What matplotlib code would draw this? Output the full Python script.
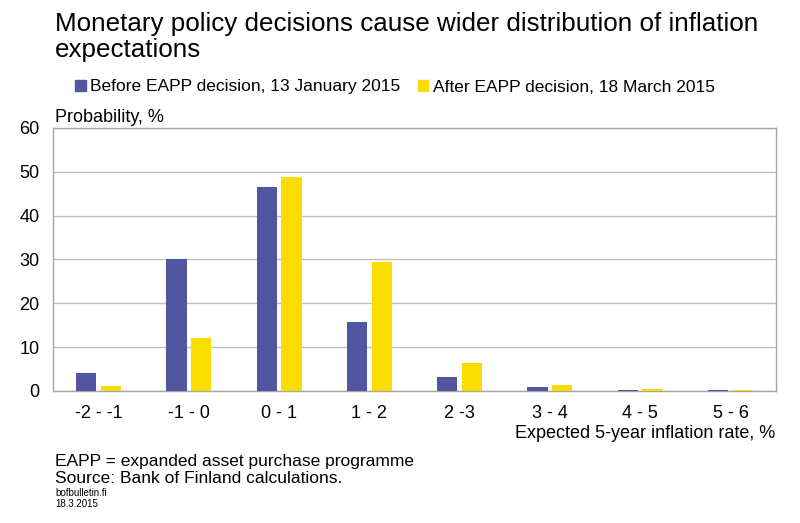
import numpy as np
import matplotlib.pyplot as plt
from matplotlib.patches import Patch

plt.rcParams['font.family'] = ['Liberation Sans', 'DejaVu Sans']

# Data
categories = ["-2 - -1", "-1 - 0", "0 - 1", "1 - 2", "2 -3", "3 - 4", "4 - 5", "5 - 6"]
before_eapp = [4.0, 30.0, 46.5, 15.7, 3.3, 0.85, 0.3, 0.25]
after_eapp = [1.1, 12.2, 48.8, 29.5, 6.3, 1.4, 0.45, 0.2]
yticks = [0, 10, 20, 30, 40, 50, 60]

blue = "#5256A0"
yellow = "#FADD00"

fig = plt.figure(figsize=(8, 5.23), dpi=100)
ax = fig.add_axes([0.0667, 0.2524, 0.9029, 0.5029])

x = np.arange(len(categories))
w = 0.225
ax.bar(x - 0.137, before_eapp, width=w, color=blue, zorder=3)
ax.bar(x + 0.137, after_eapp, width=w, color=yellow, zorder=3)

ax.set_xlim(-0.5, len(categories) - 0.5)
ax.set_ylim(0, 60)
ax.set_yticks(yticks)
ax.set_xticks(x)
ax.set_xticklabels(categories)
ax.tick_params(axis="both", length=0, labelsize=13)
ax.tick_params(axis="x", pad=10)
ax.tick_params(axis="y", pad=10)
ax.yaxis.grid(True, color="#BFBFBF", linewidth=1, zorder=0)
for s in ax.spines.values():
    s.set_color("#A6A6A6")
    s.set_linewidth(1)

# Titles and notes
fig.text(55 / 800, 1 - 57 / 523, "Monetary policy decisions cause wider distribution of inflation\nexpectations",
         fontsize=18.7, ha="left", va="baseline", linespacing=1.08)
fig.text(55 / 800, 1 - 118 / 523, "Probability, %", fontsize=13, ha="left", va="center")
fig.text(775 / 800, 1 - 433 / 523, "Expected 5-year inflation rate, %", fontsize=13, ha="right", va="center")

handles = [Patch(color=blue, label="Before EAPP decision, 13 January 2015"),
           Patch(color=yellow, label="After EAPP decision, 18 March 2015")]
fig.legend(handles=handles, loc="center", bbox_to_anchor=(395 / 800, 1 - 87 / 523), ncol=2,
           frameon=False, fontsize=12.5, handlelength=0.6, handleheight=0.6, handletextpad=0.25,
           columnspacing=1.0)

fig.text(55 / 800, 1 - 466 / 523, "EAPP = expanded asset purchase programme", fontsize=12.5, ha="left", va="baseline")
fig.text(55 / 800, 1 - 483 / 523, "Source: Bank of Finland calculations.", fontsize=12.5, ha="left", va="baseline")
fig.text(55 / 800, 1 - 496 / 523, "bofbulletin.fi", fontsize=7, ha="left", va="baseline")
fig.text(55 / 800, 1 - 507 / 523, "18.3.2015", fontsize=7, ha="left", va="baseline")

fig.savefig("out.png", dpi=100)
